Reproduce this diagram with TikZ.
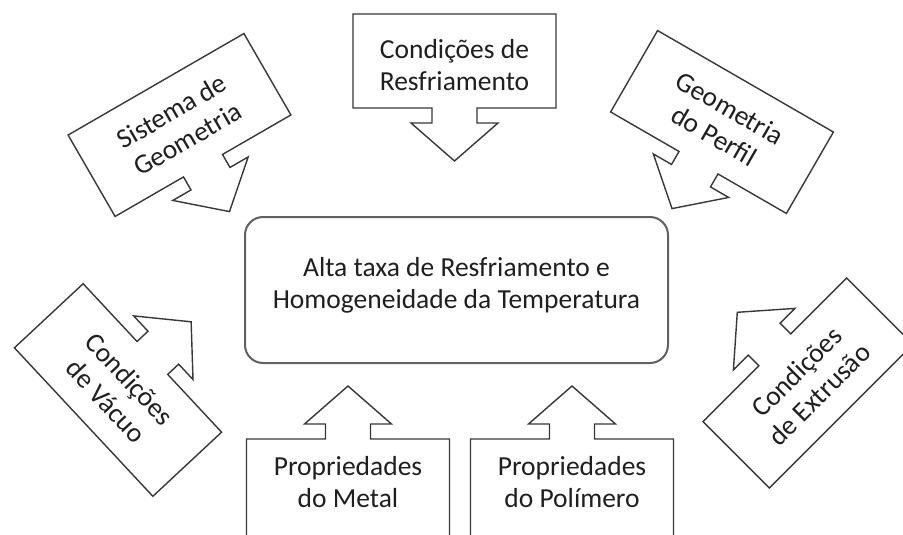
\documentclass[tikz,border=0pt]{standalone}
\usepackage{fontspec}
\setmainfont{Carlito}
\begin{document}
\begin{tikzpicture}[x=1pt,y=-1pt,
  co/.style={draw=black!78, line width=1.4pt, line join=miter, fill=white},
  lbl/.style={font=\fontsize{27.5}{32}\selectfont, text=black!88, align=center, inner sep=0pt},
  hub/.style={draw=black!62, line width=2pt, rounded corners=18pt, fill=white, minimum width=423pt, minimum height=146pt},
  pics/callout/.style={code={%
    \draw[co] (-101.5,-#1) -- (101.5,-#1) -- (101.5,47) -- (22.5,47) -- (22.5,62) -- (43.5,62)
      -- (0,100) -- (-43.5,62) -- (-22.5,62) -- (-22.5,47) -- (-101.5,47) -- cycle;}}]
\useasboundingbox (0,0) rectangle (903,535);
\clip (0,0) rectangle (903,535);

% central box
\node[hub] (hubbox) at (456.5,290) {};
\node[lbl] (hubtext) at (456.5,285) {Alta taxa de Resfriamento e\\Homogeneidade da Temperatura};

% callouts
\pic[rotate=0] at (454.5,61) {callout=47};
\node[lbl] (resf) at (454.5,65) {Condições de\\Resfriamento};

\pic[rotate=30] at (179.5,125) {callout=47};
\node[lbl, rotate=30] (sist) at (179.5,125) {Sistema de\\Geometria};

\pic[rotate=-30] at (722,122) {callout=47};
\node[lbl, rotate=-30] (perf) at (722,122) {Geometria\\do Perfil};

\pic[rotate=133] at (118,390) {callout=47};
\node[lbl, rotate=-47] (vac) at (118,390) {Condições\\de Vácuo};

\pic[rotate=225] at (808,383) {callout=47};
\node[lbl, rotate=45] (extr) at (808,383) {Condições\\de Extrusão};

\pic[rotate=180] at (348,486) {callout=80};
\node[lbl] (metal) at (348,482) {Propriedades\\do Metal};

\pic[rotate=180] at (572,486) {callout=80};
\node[lbl] (poli) at (572,482) {Propriedades\\do Polímero};
\end{tikzpicture}
\end{document}
